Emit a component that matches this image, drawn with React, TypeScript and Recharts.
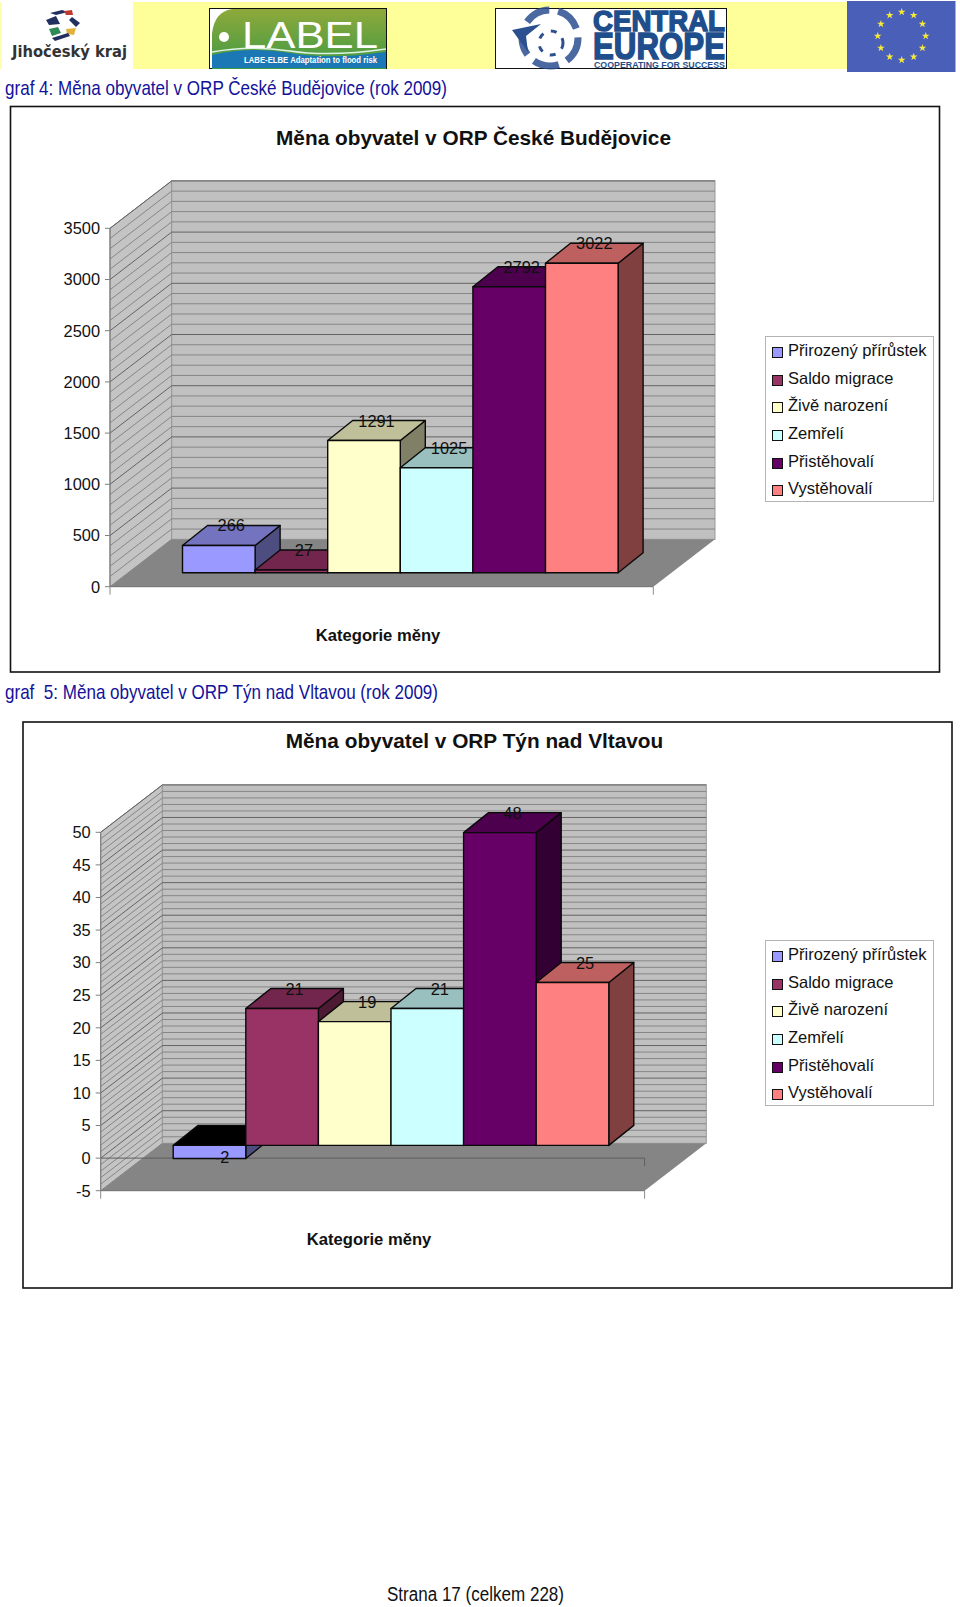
import { BarChart, Bar, XAxis, YAxis, Legend, ReferenceArea, ReferenceLine } from 'recharts';

const FONT = '"Liberation Sans", Arial, sans-serif';

const seriesNames = ['Přirozený přírůstek', 'Saldo migrace', 'Živě narození', 'Zemřelí', 'Přistěhovalí', 'Vystěhovalí'];
const seriesColors = ['#9999FF', '#993366', '#FFFFCC', '#CCFFFF', '#660066', '#FF8080'];
const topColors = ['#7373BF', '#73264D', '#BFBF99', '#99BFBF', '#4D004D', '#BF6060'];
const sideColors = ['#4D4D80', '#4D1A33', '#808066', '#668080', '#330033', '#804040'];

const budejoviceValues = [266, 27, 1291, 1025, 2792, 3022];
const budejoviceTicks = [0, 500, 1000, 1500, 2000, 2500, 3000, 3500];
const budejoviceGrid = [
  100, 200, 300, 400, 500, 600, 700, 800, 900, 1000, 1100, 1200, 1300, 1400, 1500, 1600, 1700, 1800,
  1900, 2000, 2100, 2200, 2300, 2400, 2500, 2600, 2700, 2800, 2900, 3000, 3100, 3200, 3300, 3400, 3500,
];

const tynValues = [-2, 21, 19, 21, 48, 25];
const tynTicks = [-5, 0, 5, 10, 15, 20, 25, 30, 35, 40, 45, 50];
const tynGrid = [
  -4, -3, -2, -1, 0, 1, 2, 3, 4, 5, 6, 7, 8, 9, 10, 11, 12, 13, 14, 15, 16, 17, 18, 19, 20, 21, 22, 23, 24, 25,
  26, 27, 28, 29, 30, 31, 32, 33, 34, 35, 36, 37, 38, 39, 40, 41, 42, 43, 44, 45, 46, 47, 48, 49, 50,
];

const axisTitle = 'Kategorie měny';
const euStars = [0, 1, 2, 3, 4, 5, 6, 7, 8, 9, 10, 11];

// how the flat chart is pushed into fake 3D
const WALL_DX = 61.7;
const WALL_DY = 47.4;
const BOX_DX = 25;
const BOX_DY = 20;

function Box3D(props: any) {
  const { x, y, width, height, fill, index, value, seriesIndex, planeDx, planeDy } = props;
  const left = x + planeDx;
  const right = left + width;
  const top = Math.min(y, y + height) - planeDy;
  const bottom = Math.max(y, y + height) - planeDy;
  const negative = value < 0;
  const edge = { stroke: '#0a0a0a', strokeWidth: 1.4, strokeLinejoin: 'round' as const };
  return (
    <g key={index}>
      <polygon
        points={`${right},${top} ${right + BOX_DX},${top - BOX_DY} ${right + BOX_DX},${bottom - BOX_DY} ${right},${bottom}`}
        fill={sideColors[seriesIndex]}
        {...edge}
      />
      <polygon
        points={`${left},${top} ${left + BOX_DX},${top - BOX_DY} ${right + BOX_DX},${top - BOX_DY} ${right},${top}`}
        fill={negative ? '#000000' : topColors[seriesIndex]}
        {...edge}
      />
      <rect x={left} y={top} width={width} height={bottom - top} fill={fill} {...edge} />
      <text
        x={left + width / 2 + BOX_DX / 2}
        y={negative ? bottom - 1 : top - BOX_DY}
        textAnchor="middle"
        dominantBaseline="central"
        fontSize={16.4}
        fill="#111"
      >
        {value}
      </text>
    </g>
  );
}

function Walls(props: any) {
  const { x, y, width, height } = props;
  const bottom = y + height;
  return (
    <g>
      <polygon
        points={`${x},${y} ${x + WALL_DX},${y - WALL_DY} ${x + WALL_DX},${bottom - WALL_DY} ${x},${bottom}`}
        fill="#C4C4C4"
        stroke="#808080"
      />
      <rect x={x + WALL_DX} y={y - WALL_DY} width={width} height={height} fill="#C0C0C0" stroke="#9a9a9a" />
      <polygon
        points={`${x},${bottom} ${x + width},${bottom} ${x + width + WALL_DX},${bottom - WALL_DY} ${x + WALL_DX},${bottom - WALL_DY}`}
        fill="#858585"
      />
      <line x1={x} y1={bottom} x2={x + width} y2={bottom} stroke="#6e6e6e" />
      <line x1={x} y1={bottom} x2={x} y2={bottom + 8} stroke="#8a8a8a" />
      <line x1={x + width} y1={bottom} x2={x + width} y2={bottom + 8} stroke="#8a8a8a" />
    </g>
  );
}

function wallLine(major: boolean) {
  return (props: any) => {
    const { x1, y1, x2 } = props;
    const stroke = major ? '#636363' : '#868686';
    return (
      <g>
        <line x1={x1} y1={y1} x2={x1 + WALL_DX} y2={y1 - WALL_DY} stroke={stroke} />
        <line x1={x1 + WALL_DX} y1={y1 - WALL_DY} x2={x2 + WALL_DX} y2={y1 - WALL_DY} stroke={stroke} />
      </g>
    );
  };
}

function zeroLine(props: any) {
  const { x1, y1, x2 } = props;
  return (
    <g>
      <line x1={x1} y1={y1} x2={x2} y2={y1} stroke="#5e5e5e" />
      <line x1={x2} y1={y1} x2={x2} y2={y1 + 8} stroke="#5e5e5e" />
    </g>
  );
}

function LegendBox({ payload }: any) {
  return (
    <div
      style={{
        boxSizing: 'border-box',
        width: 169,
        height: 166,
        border: '1px solid #b4b4b4',
        background: '#fff',
        fontFamily: FONT,
        fontSize: 16.5,
        color: '#111',
      }}
    >
      {(payload || []).map((p: any, i: number) => (
        <div key={p.value} style={{ position: 'absolute', left: 7, top: 2 + i * 27.6, height: 24, lineHeight: '24px', whiteSpace: 'nowrap' }}>
          <span
            style={{
              display: 'inline-block',
              boxSizing: 'border-box',
              width: 11,
              height: 11,
              marginRight: 5,
              background: p.color,
              border: '1px solid #111',
              verticalAlign: '-2px',
            }}
          />
          {p.value}
        </div>
      ))}
    </div>
  );
}

interface MigrationChartProps {
  top: number;
  height: number;
  plotLeft: number;
  plotRight: number;
  plotTop: number;
  plotBottom: number;
  values: number[];
  ticks: number[];
  grid: number[];
  domain: [number, number];
  majorStep: number;
  planeDx: number;
  planeDy: number;
  legendTop: number;
}

function MigrationChart(p: MigrationChartProps) {
  const row: Record<string, string | number> = { category: axisTitle };
  seriesNames.forEach((name, i) => {
    row[name] = p.values[i];
  });
  const xAxisHeight = 50;

  return (
    <div style={{ position: 'absolute', left: 0, top: p.top, fontFamily: FONT }}>
      <BarChart
        width={960}
        height={p.height}
        data={[row]}
        barGap={0}
        barSize={72.6}
        margin={{
          top: p.plotTop - p.top,
          right: 960 - p.plotRight,
          left: 0,
          bottom: p.top + p.height - p.plotBottom - xAxisHeight,
        }}
      >
        <XAxis
          dataKey="category"
          height={xAxisHeight}
          axisLine={false}
          tickLine={false}
          tick={false}
          label={{
            value: axisTitle,
            position: 'insideBottom',
            offset: -4,
            dx: -3.6,
            fontSize: 16.6,
            fontWeight: 700,
            fill: '#111',
          }}
        />
        <YAxis
          type="number"
          width={p.plotLeft}
          domain={p.domain}
          ticks={p.ticks}
          interval={0}
          allowDecimals={false}
          tickSize={5}
          tickMargin={5}
          tick={{ fontSize: 16.4, fill: '#111' }}
          axisLine={{ stroke: '#808080' }}
          tickLine={{ stroke: '#808080' }}
        />
        <ReferenceArea y1={p.domain[0]} y2={p.domain[1]} shape={Walls} ifOverflow="visible" zIndex={50} />
        {p.grid.map((v) => (
          <ReferenceLine key={v} y={v} shape={wallLine(v % p.majorStep === 0)} ifOverflow="visible" zIndex={60} />
        ))}
        {p.domain[0] < 0 && <ReferenceLine y={0} shape={zeroLine} ifOverflow="visible" zIndex={70} />}
        {seriesNames.map((name, i) => (
          <Bar
            key={name}
            dataKey={name}
            name={name}
            fill={seriesColors[i]}
            isAnimationActive={false}
            shape={(bar: any) => <Box3D {...bar} seriesIndex={i} planeDx={p.planeDx} planeDy={p.planeDy} />}
          />
        ))}
        <Legend
          layout="vertical"
          align="center"
          verticalAlign="middle"
          itemSorter={null}
          wrapperStyle={{ left: 765, top: p.legendTop - p.top, width: 169, height: 166 }}
          content={LegendBox}
        />
      </BarChart>
    </div>
  );
}

function starPoints(cx: number, cy: number, r: number) {
  const pts: string[] = [];
  for (let i = 0; i < 10; i++) {
    const a = -Math.PI / 2 + (i * Math.PI) / 5;
    const rad = i % 2 === 0 ? r : r * 0.4;
    pts.push(`${cx + rad * Math.cos(a)},${cy + rad * Math.sin(a)}`);
  }
  return pts.join(' ');
}

function PageArt() {
  return (
    <svg width={960} height={1607} style={{ position: 'absolute', left: 0, top: 0, fontFamily: FONT }}>
      <defs>
        <linearGradient id="labelGreen" x1="0" y1="0" x2="0" y2="1">
          <stop offset="0%" stopColor="#8FA93A" />
          <stop offset="100%" stopColor="#3E9A45" />
        </linearGradient>
      </defs>

      {/* header strip */}
      <rect x={0} y={2} width={2} height={67} fill="#FFFFB0" />
      <rect x={133} y={2} width={714} height={67} fill="#FFFF99" />

      {/* Jihocesky kraj */}
      <polygon points="46,20 56,16 60,24 49,25" fill="#22305f" />
      <polygon points="50,13 62,10 68,12 56,15" fill="#22305f" />
      <polygon points="64,11 72,10 73,15 66,15" fill="#c0392b" />
      <polygon points="72,17 80,23 76,27 69,20" fill="#22305f" />
      <polygon points="49,29 58,27 61,33 52,36" fill="#2e8b57" />
      <polygon points="66,29 76,28 74,35 67,34" fill="#e2b33c" />
      <polygon points="52,38 68,33 70,36 55,41" fill="#22305f" />
      <text x={12} y={57} fontSize={16.5} fontWeight={700} fill="#333" textLength={115} lengthAdjust="spacingAndGlyphs" fontFamily="DejaVu Sans">
        Jihočeský kraj
      </text>

      {/* LABEL logo */}
      <rect x={209.5} y={8.5} width={177} height={60} fill="#fff" stroke="#111" />
      <path d="M212 69 L212 34 Q214 12 232 9 L386 9 L386 69 Z" fill="url(#labelGreen)" />
      <path d="M212 55 Q250 46 290 53 T386 52 L386 68 L212 68 Z" fill="#1B78B5" />
      <path d="M212 52 Q250 45 290 51 T386 49" fill="none" stroke="#dff2e6" strokeWidth={1.5} />
      <circle cx={224} cy={37} r={5} fill="#fff" />
      <text x={242} y={48} fontSize={36} fill="#fff" textLength={136} lengthAdjust="spacingAndGlyphs">
        LABEL
      </text>
      <text x={244} y={63} fontSize={8.5} fontWeight={700} fill="#fff" textLength={133} lengthAdjust="spacingAndGlyphs">
        LABE-ELBE Adaptation to flood risk
      </text>

      {/* Central Europe logo */}
      <rect x={495.5} y={8.5} width={231} height={60} fill="#fff" stroke="#111" />
      <circle cx={550} cy={38} r={28} fill="none" stroke="#2C4F8F" strokeWidth={7} strokeDasharray="26 9" opacity={0.85} />
      <circle cx={551} cy={43} r={12} fill="none" stroke="#2C4F8F" strokeWidth={3} strokeDasharray="6 8" />
      <polygon points="512,30 541,24 526,36 528,52" fill="#2C4F8F" />
      <text x={593} y={30.5} fontSize={29} fontWeight={700} fill="#1F4E8C" textLength={132} lengthAdjust="spacingAndGlyphs" stroke="#1F4E8C" strokeWidth={1.5}>
        CENTRAL
      </text>
      <text x={593} y={59} fontSize={36} fontWeight={700} fill="#1F4E8C" textLength={132} lengthAdjust="spacingAndGlyphs" stroke="#1F4E8C" strokeWidth={1.5}>
        EUROPE
      </text>
      <text x={594} y={68} fontSize={9} fontWeight={700} fill="#1F4E8C" textLength={131} lengthAdjust="spacingAndGlyphs">
        COOPERATING FOR SUCCESS
      </text>

      {/* EU flag */}
      <rect x={847} y={1} width={108.5} height={71} fill="#4A5FB8" />
      {euStars.map((s) => {
        const a = (s * Math.PI) / 6;
        return <polygon key={s} points={starPoints(901.7 + 24 * Math.sin(a), 36 - 24 * Math.cos(a), 4)} fill="#F5E83C" />;
      })}

      {/* captions */}
      <text x={5} y={95} fontSize={21} fill="#12129A" textLength={442} lengthAdjust="spacingAndGlyphs">
        graf 4: Měna obyvatel v ORP České Budějovice (rok 2009)
      </text>
      <text x={5} y={699} fontSize={21} fill="#12129A" textLength={433} lengthAdjust="spacingAndGlyphs">
        {'graf\u00a0 5: Měna obyvatel v ORP Týn nad Vltavou (rok 2009)'}
      </text>
      <text x={387} y={1601} fontSize={20} fill="#111" textLength={177} lengthAdjust="spacingAndGlyphs">
        Strana 17 (celkem 228)
      </text>

      {/* chart frames and titles */}
      <rect x={10.5} y={106.5} width={929} height={565.5} fill="#fff" stroke="#111" strokeWidth={1.6} />
      <rect x={23} y={722} width={929} height={566} fill="#fff" stroke="#111" strokeWidth={1.6} />
      <text x={473.5} y={145} textAnchor="middle" fontSize={20.8} fontWeight={700} fill="#111">
        Měna obyvatel v ORP České Budějovice
      </text>
      <text x={474.5} y={748} textAnchor="middle" fontSize={20.8} fontWeight={700} fill="#111">
        Měna obyvatel v ORP Týn nad Vltavou
      </text>
    </svg>
  );
}

export default function App() {
  return (
    <div style={{ position: 'absolute', left: 0, top: 0, width: 960, height: 1607, background: '#fff', overflow: 'hidden' }}>
      <PageArt />
      <MigrationChart
        top={106}
        height={566}
        plotLeft={110}
        plotRight={653.3}
        plotTop={228.3}
        plotBottom={586.7}
        values={budejoviceValues}
        ticks={budejoviceTicks}
        grid={budejoviceGrid}
        domain={[0, 3500]}
        majorStep={500}
        planeDx={18.5}
        planeDy={14}
        legendTop={336.3}
      />
      <MigrationChart
        top={721}
        height={567}
        plotLeft={100.7}
        plotRight={644.6}
        plotTop={832.3}
        plotBottom={1190.7}
        values={tynValues}
        ticks={tynTicks}
        grid={tynGrid}
        domain={[-5, 50]}
        majorStep={5}
        planeDx={18.5}
        planeDy={12.7}
        legendTop={940.3}
      />
    </div>
  );
}
